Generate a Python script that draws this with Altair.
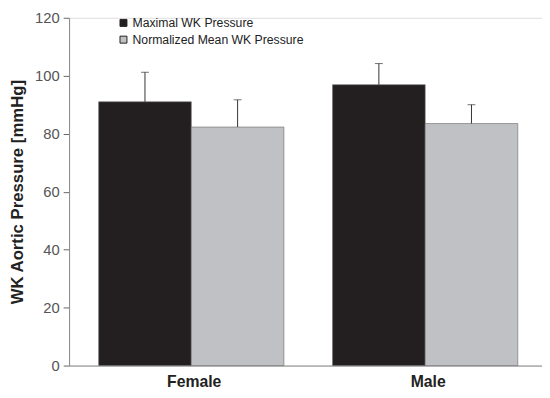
import altair as alt
import pandas as pd

sexes = ["Female", "Female", "Male", "Male"]
series = ["Maximal WK Pressure", "Normalized Mean WK Pressure",
          "Maximal WK Pressure", "Normalized Mean WK Pressure"]
values = [91.0, 82.3, 96.9, 83.5]
errors = [10.2, 9.4, 7.3, 6.5]

df = pd.DataFrame({"sex": sexes, "series": series, "value": values, "err": errors})
df["upper"] = df["value"] + df["err"]

order = ["Maximal WK Pressure", "Normalized Mean WK Pressure"]
color = alt.Color("series:N", scale=alt.Scale(domain=order, range=["#231f20", "#c0c1c5"]),
                  legend=alt.Legend(title=None, orient="none", legendX=49, legendY=-1,
                                    symbolType="square", symbolSize=50, symbolStrokeColor="#222",
                                    symbolStrokeWidth=1, labelFontSize=12.4, labelFont="Liberation Sans",
                                    labelColor="#222", labelLimit=400, rowPadding=4,
                                    symbolOffset=0, labelOffset=3))

x = alt.X("sex:N", title=None,
          scale=alt.Scale(paddingInner=0.208, paddingOuter=0.115, align=0.55),
          axis=alt.Axis(labelAngle=0, ticks=False, labelFontSize=16, labelFontWeight="bold",
                        labelFont="Liberation Sans", labelColor="#222", labelPadding=8,
                        labelOffset=3, domainColor="#888", grid=False))
xo = alt.XOffset("series:N", sort=order)

base = alt.Chart(df)

bars = base.mark_bar(stroke="#666", strokeWidth=0.6).encode(
    x=x, xOffset=xo,
    y=alt.Y("value:Q", title="WK Aortic Pressure [mmHg]",
            scale=alt.Scale(domain=[0, 120], nice=False),
            axis=alt.Axis(values=[0, 20, 40, 60, 80, 100, 120], grid=False, tickSize=6,
                          tickColor="#666", domainColor="#888", labelFontSize=15,
                          labelFont="Liberation Sans", labelColor="#555", labelPadding=4,
                          titleFontSize=17, titleFontWeight="bold", titleFont="Liberation Sans",
                          titleColor="#222", titlePadding=8)),
    color=color,
)

rules = base.mark_rule(color="#333", strokeWidth=1).encode(
    x=x, xOffset=xo, y="value:Q", y2="upper:Q")

caps = base.mark_tick(color="#333", thickness=1, size=8, orient="horizontal").encode(
    x=x, xOffset=xo, y="upper:Q")

chart = (bars + rules + caps).properties(
    width=480, height=353,
    padding={"left": 62, "top": 7, "right": 0, "bottom": 30},
    autosize=alt.AutoSizeParams(type="none"),
).configure_view(stroke=None).configure(background="white")

chart.save("out.html", embed_options={"renderer": "svg", "actions": False})
